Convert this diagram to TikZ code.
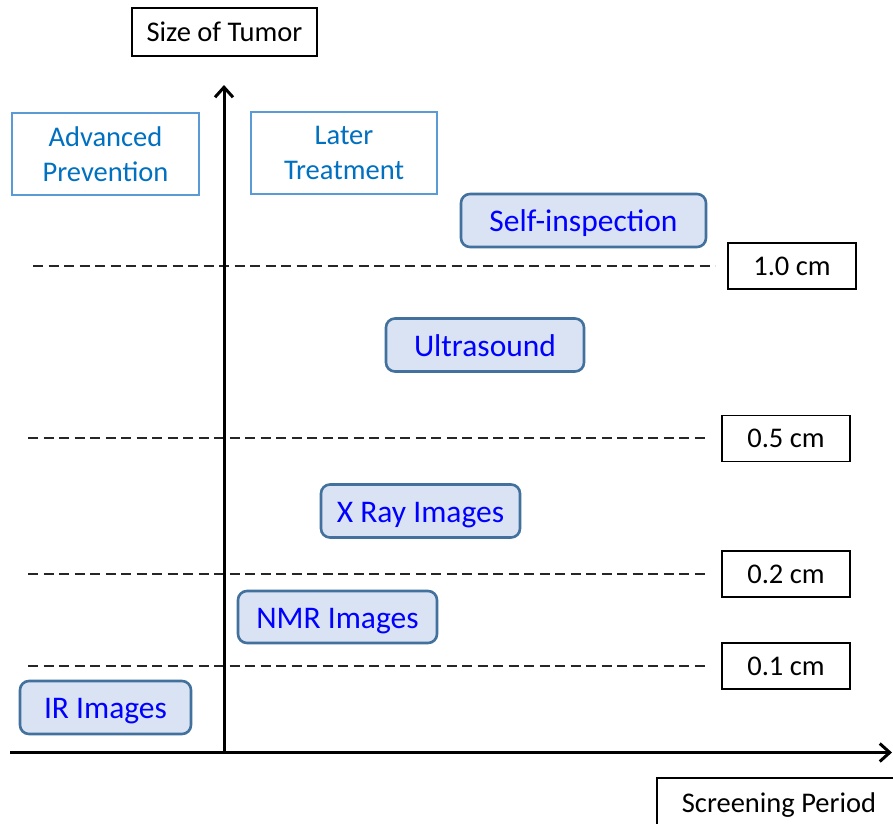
\documentclass[tikz,border=0pt]{standalone}
\usepackage{fontspec}
\setmainfont{Carlito}
\usetikzlibrary{arrows.meta}
\definecolor{nodefill}{HTML}{DAE3F3}
\definecolor{nodeedge}{HTML}{41719C}
\definecolor{nodetext}{HTML}{0000FF}
\definecolor{boxedge}{HTML}{5B9BD5}
\definecolor{boxtext}{HTML}{0070C0}
\begin{document}
\begin{tikzpicture}[x=1pt,y=-1pt,
  lbl/.style={draw=black, line width=1.5pt, fill=white, inner sep=0pt, font=\fontsize{28.5}{34}\selectfont, text=black},
  zone/.style={draw=boxedge, line width=1.3pt, fill=white, inner sep=0pt, align=center, font=\fontsize{28.5}{35}\selectfont, text=boxtext},
  method/.style={draw=nodeedge, line width=2.6pt, fill=nodefill, rounded corners=9pt, inner sep=0pt, font=\fontsize{31.5}{36}\selectfont, text=nodetext, minimum height=53pt, text height=23pt, text depth=1pt},
  level/.style={dashed, dash pattern=on 10pt off 5.5pt, line width=1.4pt, draw=black!85},
  axis/.style={line width=3pt, -{Straight Barb[length=10pt,width=18pt]}}
]
\clip (0,0) rectangle (893,823);
\fill[white] (0,0) rectangle (893,823);

% dashed levels
\coordinate (d1a) at (33,266);  \coordinate (d1b) at (715,266);
\coordinate (d2a) at (28,438);  \coordinate (d2b) at (708,438);
\coordinate (d3a) at (28,574);  \coordinate (d3b) at (708,574);
\coordinate (d4a) at (28,666);  \coordinate (d4b) at (708,666);
\draw[level] (d1a) -- (d1b);
\draw[level] (d2a) -- (d2b);
\draw[level] (d3a) -- (d3b);
\draw[level] (d4a) -- (d4b);

% axes
\coordinate (origin) at (224,752.5);
\coordinate (ytip) at (224,85);
\coordinate (xstart) at (10,752.5);
\coordinate (xtip) at (892,752.5);
\draw[axis] (origin) -- (ytip);
\draw[axis] (xstart) -- (xtip);

% axis labels
\node[lbl, minimum width=185pt, minimum height=48pt] (ylab) at (224.5,32) {Size of Tumor};
\node[lbl, minimum width=244pt, minimum height=54pt] (xlab) at (779,805) {Screening Period};

% zones
\node[zone, minimum width=187pt, minimum height=82pt] (adv) at (105.5,154) {Advanced\\Prevention};
\node[zone, minimum width=186pt, minimum height=82pt] (later) at (344,153) {Later\\Treatment};

% size labels
\node[lbl, minimum width=128pt, minimum height=46pt] (l10) at (792,266) {1.0 cm};
\node[lbl, minimum width=128pt, minimum height=46pt] (l05) at (786,438.5) {0.5 cm};
\node[lbl, minimum width=128pt, minimum height=46pt] (l02) at (786,574) {0.2 cm};
\node[lbl, minimum width=128pt, minimum height=46pt] (l01) at (786,666) {0.1 cm};

% methods
\node[method, minimum width=245pt] (self) at (583.5,220.5) {Self-inspection};
\node[method, minimum width=198pt] (us) at (485,345) {Ultrasound};
\node[method, minimum width=199pt] (xray) at (420.5,511) {X Ray Images};
\node[method, minimum width=199pt, minimum height=52pt] (nmr) at (337.5,617) {NMR Images};
\node[method, minimum width=171pt] (ir) at (105.5,707.5) {IR Images};
\end{tikzpicture}
\end{document}
